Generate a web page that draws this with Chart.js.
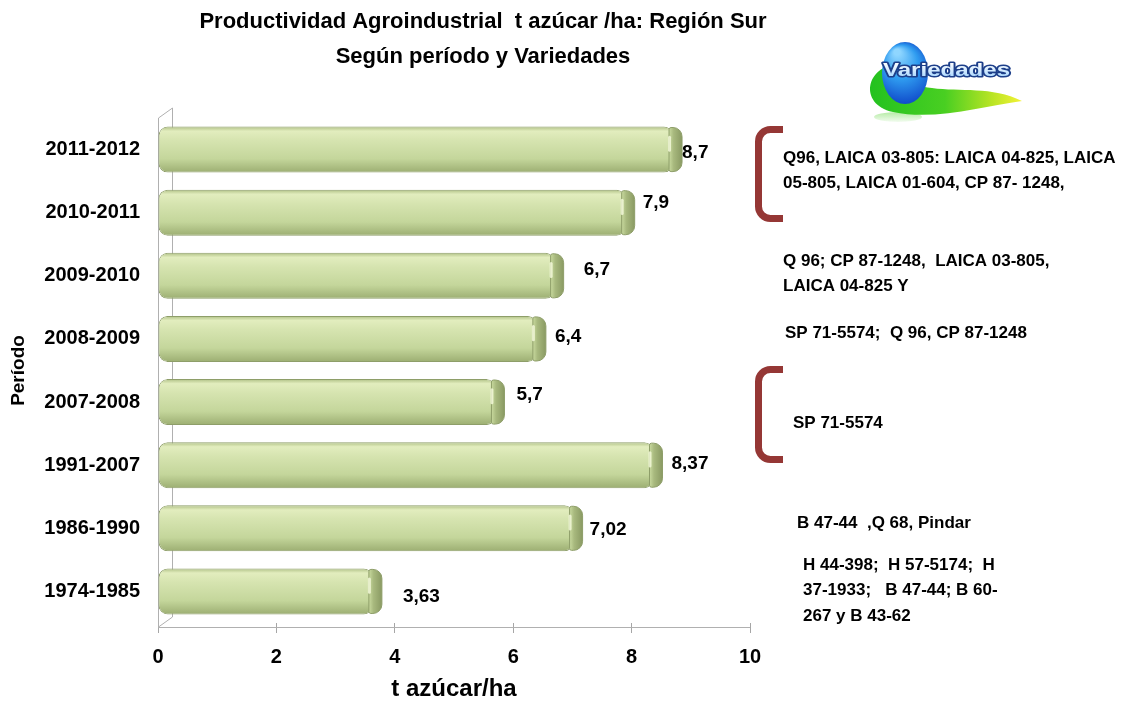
<!DOCTYPE html>
<html>
<head>
<meta charset="utf-8">
<script src="https://cdn.jsdelivr.net/npm/chart.js@4.4.1/dist/chart.umd.min.js"></script>
<style>
  html, body { margin: 0; padding: 0; background: #fff; }
  #wrap { width: 1130px; height: 706px; position: relative; }
</style>
</head>
<body>
<div id="wrap"><canvas id="chart"></canvas></div>
<script>
// datos
const periods = ["2011-2012", "2010-2011", "2009-2010", "2008-2009", "2007-2008", "1991-2007", "1986-1990", "1974-1985"];
const yields = [8.7, 7.9, 6.7, 6.4, 5.7, 8.37, 7.02, 3.63];
const yieldLabels = ["8,7", "7,9", "6,7", "6,4", "5,7", "8,37", "7,02", "3,63"];
const xMin = 0, xMax = 10, xStep = 2;
const titleLines = ["Productividad Agroindustrial  t azúcar /ha: Región Sur", "Según período y Variedades"];
const xTitle = "t azúcar/ha";
const yTitle = "Período";
const logoText = "Variedades";
const varietyNotes = [
    ["Q96, LAICA 03-805: LAICA 04-825, LAICA", "05-805, LAICA 01-604, CP 87- 1248,"],
    ["Q 96; CP 87-1248,  LAICA 03-805,", "LAICA 04-825 Y"],
    ["SP 71-5574;  Q 96, CP 87-1248"],
    ["SP 71-5574"],
    ["B 47-44  ,Q 68, Pindar"],
    ["H 44-398;  H 57-5174;  H", "37-1933;   B 47-44; B 60-", "267 y B 43-62"]
];

// posiciones (solo estilo)
const notePos = [[783, 158], [783, 261], [785, 333], [793, 423], [797, 523], [803, 565]];
const noteLineStep = 25.5;
const brackets = [[126, 222], [366, 463]];
const labelNudgeX = [9, 17, 29, 18, 21, 18, 16, 30];
const labelNudgeY = [3, -10, -6, -2, -7, -1, 1, 5];

const FONT = '"Liberation Sans", Arial, sans-serif';
const BAR_PCT = 0.73;

function barFill(context) {
    const chart = context.chart;
    const { ctx, chartArea, scales } = chart;
    if (!chartArea || !scales.y) return "#c6d79c";
    const yc = scales.y.getPixelForValue(context.dataIndex);
    const h = scales.y.height / periods.length * BAR_PCT / 2;
    const g = ctx.createLinearGradient(0, yc - h, 0, yc + h);
    g.addColorStop(0, "#aebf84");
    g.addColorStop(0.1, "#e2edbe");
    g.addColorStop(0.3, "#d6e4b0");
    g.addColorStop(0.7, "#c4d69b");
    g.addColorStop(1, "#9cae72");
    return g;
}

const decorPlugin = {
    id: "decor",
    beforeDatasetsDraw(chart) {
        const { ctx, chartArea } = chart;
        const l = chartArea.left, t = chartArea.top, b = chartArea.bottom, r = chartArea.right;
        ctx.save();
        ctx.strokeStyle = "#b0b0b0";
        ctx.lineWidth = 1;
        ctx.beginPath();
        // pared lateral en falso 3D
        ctx.moveTo(l + 0.5, t);
        ctx.lineTo(l + 0.5, b + 4);
        ctx.moveTo(l + 0.5, t);
        ctx.lineTo(l + 14.5, t - 10);
        ctx.lineTo(l + 14.5, b - 6);
        ctx.lineTo(l + 0.5, b + 4);
        // piso
        ctx.moveTo(l, b + 4.5);
        ctx.lineTo(r, b + 4.5);
        ctx.stroke();
        ctx.restore();
    },
    afterDatasetsDraw(chart) {
        const { ctx, scales } = chart;
        const meta = chart.getDatasetMeta(0);
        ctx.save();
        // cara final de cada barra (efecto 3D)
        meta.data.forEach(bar => {
            const h = bar.height;
            const x0 = bar.x - 4, y0 = bar.y - h / 2;
            const g = ctx.createLinearGradient(x0, 0, x0 + 13, 0);
            g.addColorStop(0, "#c9da9f");
            g.addColorStop(0.35, "#a8b97e");
            g.addColorStop(1, "#8a9a63");
            ctx.fillStyle = g;
            ctx.strokeStyle = "#8e9e69";
            ctx.lineWidth = 1;
            ctx.beginPath();
            ctx.roundRect(x0, y0 + 1, 13, h - 2, [2, 9, 9, 2]);
            ctx.fill();
            ctx.stroke();
            // brillo
            ctx.fillStyle = "rgba(245,250,220,0.8)";
            ctx.beginPath();
            ctx.roundRect(x0 - 1, y0 + h * 0.2, 3, h * 0.35, 1.5);
            ctx.fill();
        });
        // etiquetas de valores
        ctx.font = "bold 19px " + FONT;
        ctx.fillStyle = "#000";
        ctx.textAlign = "left";
        ctx.textBaseline = "middle";
        yields.forEach((v, i) => {
            const x = scales.x.getPixelForValue(v) + labelNudgeX[i];
            const y = scales.y.getPixelForValue(i) + labelNudgeY[i];
            ctx.fillText(yieldLabels[i], x, y);
        });
        ctx.restore();
    },
    afterDraw(chart) {
        const { ctx } = chart;
        ctx.save();
        // título
        ctx.font = "bold 22px " + FONT;
        ctx.fillStyle = "#000";
        ctx.textAlign = "center";
        ctx.textBaseline = "middle";
        ctx.fillText(titleLines[0], 483, 22);
        ctx.fillText(titleLines[1], 483, 57);

        // corchetes
        ctx.strokeStyle = "#953735";
        ctx.lineWidth = 7;
        ctx.lineCap = "butt";
        ctx.lineJoin = "round";
        brackets.forEach(([top, bot]) => {
            ctx.beginPath();
            ctx.moveTo(783, top + 3.5);
            ctx.arcTo(758.5, top + 3.5, 758.5, bot - 3.5, 12);
            ctx.arcTo(758.5, bot - 3.5, 783, bot - 3.5, 12);
            ctx.lineTo(783, bot - 3.5);
            ctx.stroke();
        });

        // variedades
        ctx.font = "bold 17px " + FONT;
        ctx.fillStyle = "#000";
        ctx.textAlign = "left";
        ctx.textBaseline = "middle";
        varietyNotes.forEach((lines, i) => {
            lines.forEach((txt, j) => {
                ctx.fillText(txt, notePos[i][0], notePos[i][1] + j * noteLineStep);
            });
        });

        drawLogo(ctx);
        ctx.restore();
    }
};

function drawLogo(ctx) {
    ctx.save();
    // reflejo
    const rf = ctx.createLinearGradient(0, 112, 0, 124);
    rf.addColorStop(0, "rgba(120,220,90,0.55)");
    rf.addColorStop(1, "rgba(120,220,90,0)");
    ctx.fillStyle = rf;
    ctx.beginPath();
    ctx.ellipse(898, 117, 24, 5, 0, 0, Math.PI * 2);
    ctx.fill();
    // onda verde-amarilla
    const g = ctx.createLinearGradient(868, 0, 1022, 0);
    g.addColorStop(0, "#22c11f");
    g.addColorStop(0.5, "#49cf22");
    g.addColorStop(0.8, "#b7e424");
    g.addColorStop(1, "#f4f236");
    ctx.fillStyle = g;
    ctx.beginPath();
    ctx.moveTo(898, 64);
    ctx.bezierCurveTo(866, 66, 858, 104, 893, 112);
    ctx.bezierCurveTo(935, 121, 985, 106, 1022, 101);
    ctx.bezierCurveTo(992, 86, 960, 92, 932, 88);
    ctx.bezierCurveTo(908, 85, 896, 78, 898, 64);
    ctx.fill();
    // círculo azul
    const b = ctx.createRadialGradient(897, 52, 3, 905, 74, 34);
    b.addColorStop(0, "#8fd6ff");
    b.addColorStop(0.45, "#2f9cf0");
    b.addColorStop(1, "#0b3fc4");
    ctx.fillStyle = b;
    ctx.beginPath();
    ctx.ellipse(905, 73, 23, 31, 0, 0, Math.PI * 2);
    ctx.fill();
    // texto
    ctx.font = "bold 18px " + FONT;
    ctx.textAlign = "left";
    ctx.textBaseline = "middle";
    const w = ctx.measureText(logoText).width;
    ctx.translate(883, 71);
    ctx.scale(127 / w, 1);
    ctx.lineJoin = "round";
    ctx.lineWidth = 3;
    ctx.strokeStyle = "#1d3f8a";
    ctx.strokeText(logoText, 0, 0);
    const tg = ctx.createLinearGradient(0, -8, 0, 8);
    tg.addColorStop(0, "#ffffff");
    tg.addColorStop(1, "#9fd3ff");
    ctx.fillStyle = tg;
    ctx.fillText(logoText, 0, 0);
    ctx.restore();
}

new Chart(document.getElementById("chart"), {
    type: "bar",
    data: {
        labels: periods,
        datasets: [{
            data: yields,
            backgroundColor: barFill,
            borderColor: "#8e9e69",
            borderWidth: 1,
            borderRadius: 9,
            borderSkipped: false,
            barPercentage: BAR_PCT,
            categoryPercentage: 1
        }]
    },
    options: {
        indexAxis: "y",
        responsive: true,
        maintainAspectRatio: false,
        animation: false,
        layout: { padding: { top: 118, left: 0, right: 380, bottom: 0 } },
        plugins: {
            legend: { display: false },
            tooltip: { enabled: false },
            title: { display: false }
        },
        scales: {
            x: {
                min: xMin,
                max: xMax,
                afterFit: s => { s.height = 83; },
                ticks: {
                    stepSize: xStep,
                    padding: 12,
                    color: "#000",
                    font: { family: FONT, size: 20, weight: "bold" }
                },
                grid: { display: true, drawOnChartArea: false, tickLength: 10, color: "#a6a6a6" },
                border: { display: false },
                title: {
                    display: true,
                    text: xTitle,
                    color: "#000",
                    font: { family: FONT, size: 24, weight: "bold" },
                    padding: { top: 0, bottom: 2 }
                }
            },
            y: {
                afterFit: s => { s.width = 158; },
                ticks: {
                    padding: 10,
                    color: "#000",
                    font: { family: FONT, size: 20, weight: "bold" }
                },
                grid: { display: false },
                border: { display: false },
                title: {
                    display: true,
                    text: yTitle,
                    color: "#000",
                    font: { family: FONT, size: 19, weight: "bold" },
                    padding: { top: 7, bottom: 0 }
                }
            }
        }
    },
    plugins: [decorPlugin]
});
</script>
</body>
</html>
